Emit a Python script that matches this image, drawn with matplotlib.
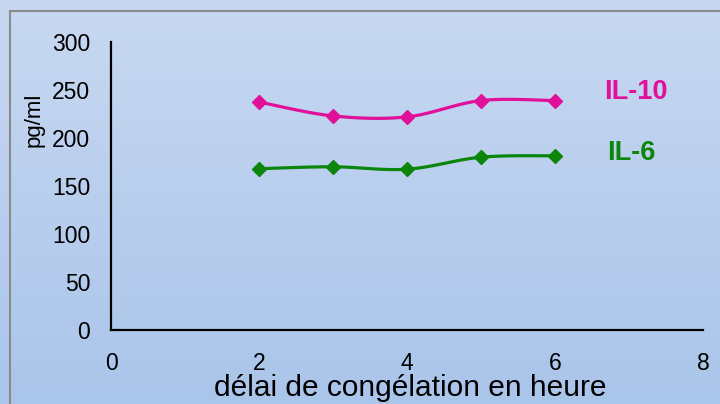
import numpy as np
import matplotlib
matplotlib.use("Agg")
import matplotlib.pyplot as plt
from matplotlib.lines import Line2D

plt.rcParams['font.family'] = ['Liberation Sans', 'DejaVu Sans']

hours = [2, 3, 4, 5, 6]
il10 = [237.5, 223, 222, 239, 239]
il6 = [168, 170, 167.5, 180, 181.5]
x_ticks = [0, 2, 4, 6, 8]
y_ticks = [0, 50, 100, 150, 200, 250, 300]

MAGENTA = '#e0109a'
GREEN = '#0b860b'


def smooth(x, y, n=30):
    """Excel-like smoothed line (Catmull-Rom cubic Bezier)."""
    P = np.column_stack([x, y]).astype(float)
    out = []
    for i in range(len(P) - 1):
        p0 = P[i - 1] if i > 0 else P[i]
        p1 = P[i]
        p2 = P[i + 1]
        p3 = P[i + 2] if i + 2 < len(P) else P[i + 1]
        c1 = p1 + (p2 - p0) / 6.0
        c2 = p2 - (p3 - p1) / 6.0
        t = np.linspace(0, 1, n)[:, None]
        seg = ((1 - t) ** 3) * p1 + 3 * ((1 - t) ** 2) * t * c1 + 3 * (1 - t) * t ** 2 * c2 + t ** 3 * p2
        out.append(seg if i == 0 else seg[1:])
    s = np.vstack(out)
    return s[:, 0], s[:, 1]


fig = plt.figure(figsize=(7.2, 4.04), dpi=100)

# background gradient
bg = fig.add_axes([0, 0, 1, 1], zorder=-10)
grad = np.linspace(0, 1, 256)[:, None]
top = np.array([0.784, 0.847, 0.945])
bot = np.array([0.667, 0.773, 0.918])
img = top[None, None, :] * (1 - grad[:, :, None]) + bot[None, None, :] * grad[:, :, None]
bg.imshow(img, aspect='auto', extent=[0, 1, 0, 1], origin='upper')
bg.set_xlim(0, 1)
bg.set_ylim(0, 1)
bg.axis('off')
# frame border (top and left visible)
fig.add_artist(Line2D([9.5 / 720, 9.5 / 720], [0, 1 - 10.5 / 404], transform=fig.transFigure,
                      color='#8a8a8a', lw=1.5))
fig.add_artist(Line2D([9.5 / 720, 1], [1 - 10.5 / 404, 1 - 10.5 / 404], transform=fig.transFigure,
                      color='#8a8a8a', lw=1.5))

ax = fig.add_axes([111 / 720, 1 - 330 / 404, 592 / 720, 288 / 404])
ax.patch.set_alpha(0)

for ys, col in [(il10, MAGENTA), (il6, GREEN)]:
    sx, sy = smooth(hours, ys)
    ax.plot(sx, sy, color=col, lw=2.3, solid_capstyle='round')
    ax.plot(hours, ys, linestyle='none', marker='D', ms=7, color=col)

ax.set_xlim(0, 8)
ax.set_ylim(0, 300)
ax.set_xticks(x_ticks)
ax.set_yticks(y_ticks)
ax.tick_params(length=0, labelsize=16.5)
ax.tick_params(axis='y', pad=15)
ax.tick_params(axis='x', pad=15.5)
for s in ['top', 'right']:
    ax.spines[s].set_visible(False)
for s in ['left', 'bottom']:
    ax.spines[s].set_linewidth(1.6)
    ax.spines[s].set_color('black')

fig.text(410 / 720, 1 - 396 / 404, 'délai de congélation en heure', fontsize=21.5,
         ha='center', va='baseline')
fig.text(34 / 720, 1 - 120 / 404, 'pg/ml', rotation=90, fontsize=16, ha='center', va='center')

fig.text(636 / 720, 1 - 92 / 404, 'IL-10', color=MAGENTA, fontsize=19.5, fontweight='bold',
         ha='center', va='center')
fig.text(631 / 720, 1 - 153 / 404, 'IL-6', color=GREEN, fontsize=19.5, fontweight='bold',
         ha='center', va='center')

fig.savefig('out.png', dpi=100)
